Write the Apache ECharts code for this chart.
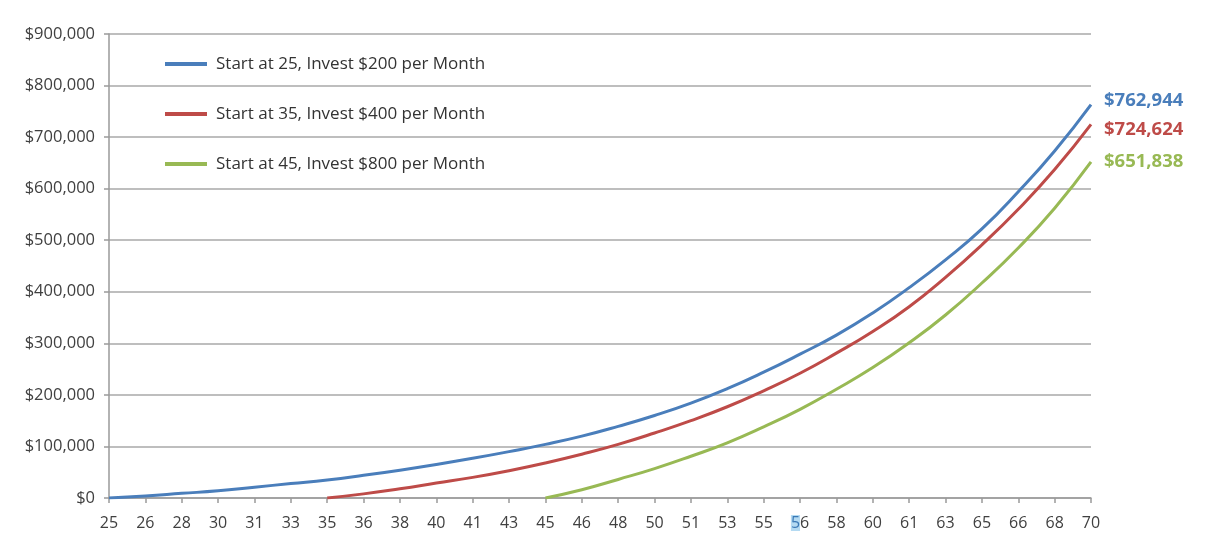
<!DOCTYPE html>
<html>
<head>
<meta charset="utf-8">
<script src="https://cdn.jsdelivr.net/npm/echarts@6/dist/echarts.min.js"></script>
<style>
html,body{margin:0;padding:0;background:#fff;}
#chart{width:1228px;height:553px;}
</style>
</head>
<body>
<div id="chart"></div>
<script>
var ageLabels = ['25','26','28','30','31','33','35','36','38','40','41','43','45','46','48','50','51','53','55','56','58','60','61','63','65','66','68','70'];
var seriesNames = ['Start at 25, Invest $200 per Month','Start at 35, Invest $400 per Month','Start at 45, Invest $800 per Month'];
// values (from each plan's start age to 70)
var start25 = [0,4000,9000,14000,21000,28000,35000,44000,54000,65000,77000,90000,104000,120000,139000,160000,184000,212000,244000,279000,316000,359000,408000,462000,522000,594000,673000,762944];
var start35 = [0,8000,18000,29000,40000,53000,68000,85000,104000,126000,150000,177000,208000,242000,281000,323000,371000,428000,491000,560000,637000,724624];
var start45 = [0,16000,36000,57000,81000,107000,138000,172000,211000,253000,301000,355000,417000,485000,562000,651838];
var startIndex = [0, 6, 12];
var colors = ['#4A7EBB','#BE4B48','#98B954'];
var highlightedLabel = '56';

function pad(arr, n){ var out=[]; for(var i=0;i<n;i++) out.push(null); return out.concat(arr); }
function money(v){ return '$' + Math.round(v).toLocaleString('en-US'); }

var raw = [start25, start35, start45];
var endOffsets = [[1,-4],[1,5],[1,0]];
var series = raw.map(function(arr, k){
  return {
    name: seriesNames[k],
    type: 'line',
    data: pad(arr, startIndex[k]),
    smooth: 0.5,
    showSymbol: false,
    symbol: 'none',
    lineStyle: {width: 3, color: colors[k]},
    itemStyle: {color: colors[k]},
    endLabel: {
      show: true,
      formatter: function(p){ return money(p.value); },
      color: colors[k],
      fontWeight: 'bold',
      fontSize: 18.5,
      fontFamily: 'Open Sans',
      distance: 12,
      offset: endOffsets[k]
    }
  };
});

var chart = echarts.init(document.getElementById('chart'), null, {renderer:'canvas'});
chart.setOption({
  animation: false,
  backgroundColor: '#ffffff',
  textStyle: {fontFamily: 'Open Sans'},
  grid: {left: 109, right: 137, top: 34, bottom: 55, containLabel: false},
  legend: {
    show: true,
    orient: 'vertical',
    left: 160,
    top: 47,
    itemWidth: 42,
    itemHeight: 4,
    itemGap: 26,
    icon: 'rect',
    textStyle: {fontSize: 17, color: '#333', fontFamily: 'Open Sans', padding: [0,0,0,4], lineHeight: 24},
    data: seriesNames
  },
  xAxis: {
    type: 'category',
    data: ageLabels,
    boundaryGap: false,
    axisLine: {show: true, lineStyle: {color: '#9a9a9a', width: 1.5}},
    axisTick: {show: true, alignWithLabel: true, length: 5, lineStyle: {color: '#9a9a9a', width: 1.5}},
    axisLabel: {
      color: '#404040', fontSize: 16, margin: 17, interval: 0,
      formatter: function(v){
        if (v === highlightedLabel) return '{hl|' + v.charAt(0) + '}' + v.slice(1);
        return v;
      },
      rich: {hl: {color: '#3a78b5', backgroundColor: '#b4daf2', fontSize: 16, fontFamily: 'Open Sans'}}
    },
    splitLine: {show: false}
  },
  yAxis: {
    type: 'value',
    min: 0,
    max: 900000,
    interval: 100000,
    axisLine: {show: true, lineStyle: {color: '#9a9a9a', width: 1.5}},
    axisTick: {show: true, length: 5, lineStyle: {color: '#9a9a9a', width: 1.5}},
    axisLabel: {color: '#404040', fontSize: 16.5, margin: 14, formatter: function(v){ return money(v); }},
    splitLine: {show: true, lineStyle: {color: '#a8a8a8', width: 1.5}}
  },
  series: series
});
</script>
</body>
</html>
